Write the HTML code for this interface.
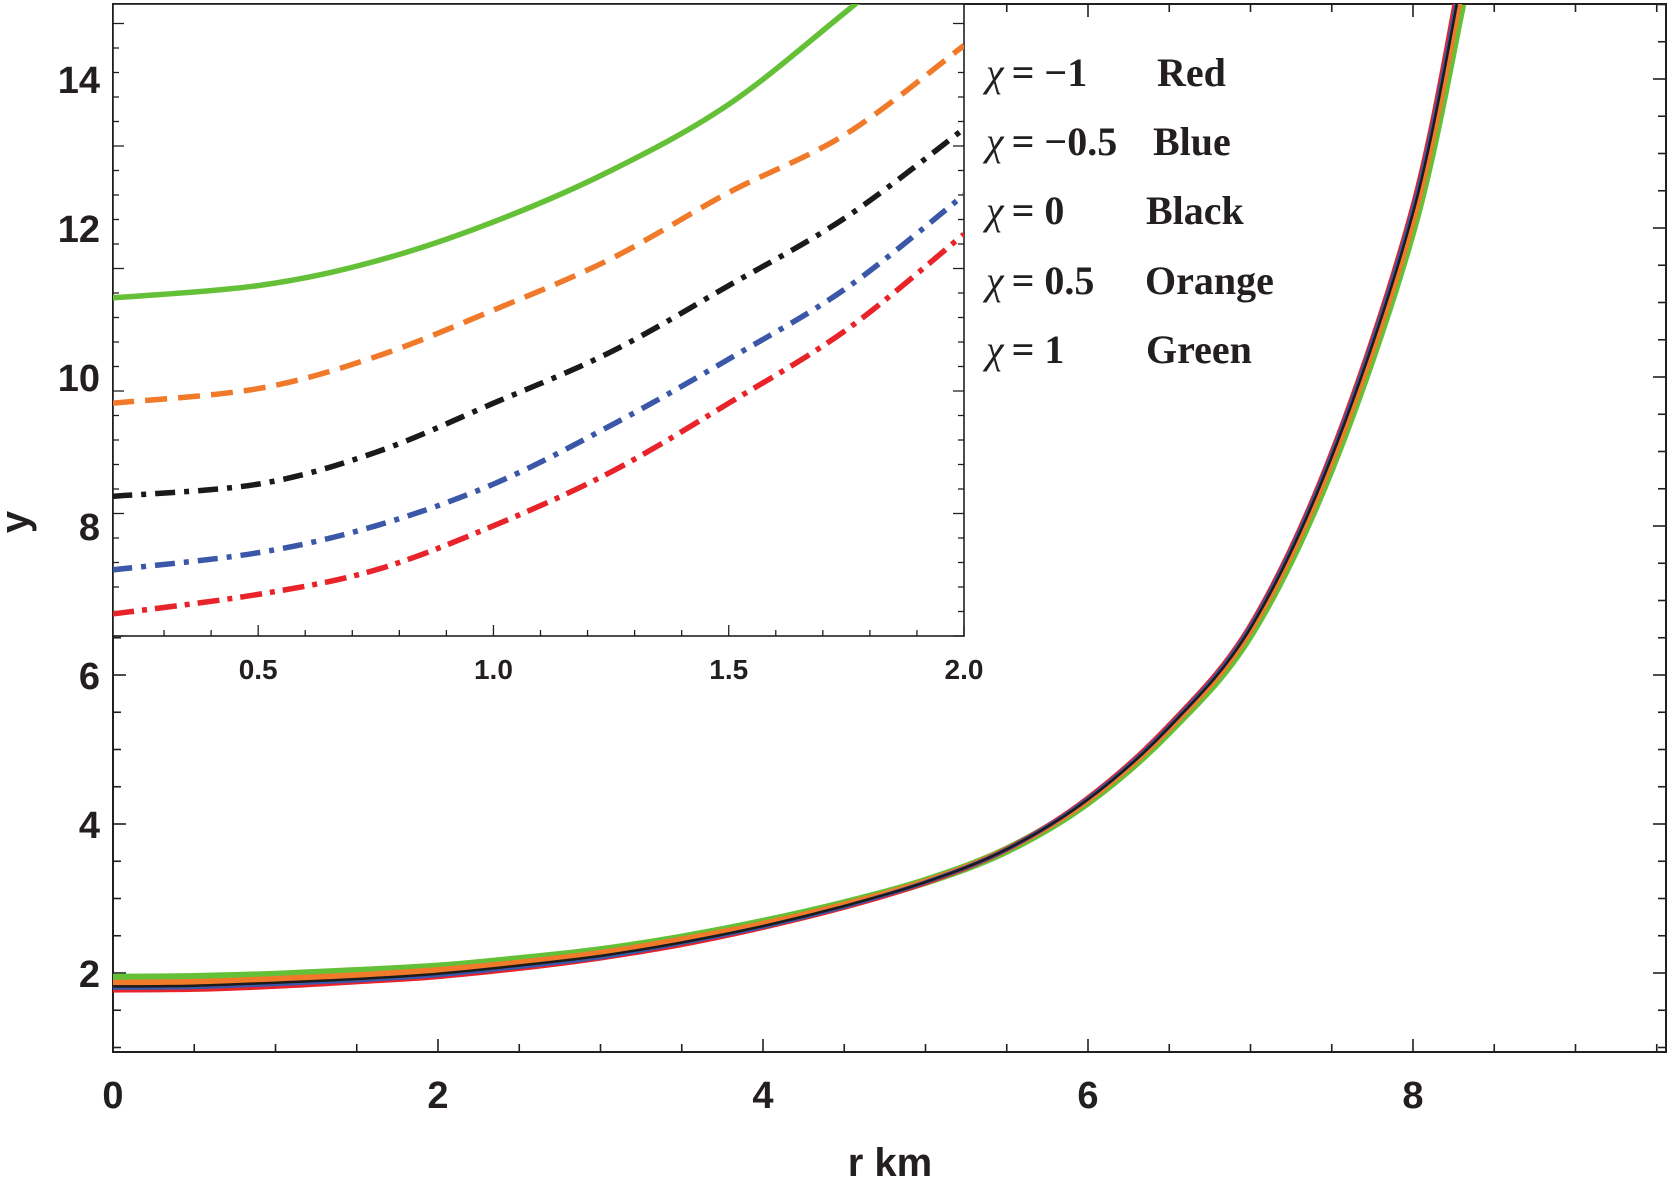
<!DOCTYPE html>
<html><head><meta charset="utf-8"><style>
html,body{margin:0;padding:0;background:#fff;}
svg{display:block;}
.tl{font-family:"Liberation Sans",sans-serif;font-weight:bold;fill:#231f20;}
.lg{font-family:"Liberation Serif",serif;font-weight:bold;fill:#231f20;font-size:40px;}
</style></head><body>
<svg id="chart" width="1667" height="1178" viewBox="0 0 1667 1178"></svg>
<script>
// ---- main plot data ----
const mainX = [0,0.5,1,1.5,2,2.5,3,3.5,4,4.5,5,5.5,6,6.5,7,7.5,8,8.3];
const mainGreen  = [1.93,1.94,1.97,2.02,2.08,2.18,2.30,2.47,2.68,2.93,3.23,3.65,4.30,5.25,6.55,8.80,12.0,15.0];
const mainOrange = [1.87,1.88,1.92,1.97,2.04,2.14,2.27,2.45,2.66,2.92,3.23,3.66,4.32,5.28,6.60,8.87,12.1,15.2];
const mainBlack  = [1.82,1.83,1.87,1.92,1.99,2.10,2.23,2.41,2.63,2.90,3.22,3.66,4.33,5.30,6.63,8.93,12.2,15.35];
const mainBlue   = [1.80,1.81,1.85,1.90,1.97,2.08,2.21,2.40,2.62,2.89,3.22,3.66,4.34,5.31,6.65,8.96,12.25,15.4];
const mainRed    = [1.77,1.78,1.82,1.88,1.95,2.06,2.20,2.38,2.61,2.88,3.21,3.66,4.35,5.33,6.67,8.99,12.3,15.5];
const mainXTicks = [0,2,4,6,8];
const mainYTicks = [2,4,6,8,10,12,14];
// ---- inset data ----
const insetX = [0.19,0.5,0.75,1.0,1.25,1.5,1.75,2.0];
const insetGreen  = [3.38,3.43,3.53,3.69,3.90,4.17,4.55,4.95];
const insetOrange = [2.95,3.01,3.14,3.33,3.54,3.81,4.05,4.41];
const insetBlack  = [2.57,2.62,2.75,2.95,3.16,3.43,3.71,4.07];
const insetBlue   = [2.27,2.34,2.45,2.62,2.86,3.13,3.42,3.80];
const insetRed    = [2.09,2.17,2.27,2.45,2.67,2.95,3.25,3.64];
const insetXTicks = [0.5,1.0,1.5,2.0];

const NS="http://www.w3.org/2000/svg";
const svg=document.getElementById('chart');
function mk(tag,attrs,parent){const e=document.createElementNS(NS,tag);for(const k in attrs)e.setAttribute(k,attrs[k]);(parent||svg).appendChild(e);return e;}

const M={l:113,r:1666,t:4,b:1052,x0:0,x1:(1666-113)/162.5,y0:14-(1052-79)/74.5,y1:14+75/74.5};
const mx=v=>M.l+(v-M.x0)/(M.x1-M.x0)*(M.r-M.l);
const my=v=>M.b-(v-M.y0)/(M.y1-M.y0)*(M.b-M.t);
const I={l:113,r:964,t:4,b:636,x0:0.5-(258-113)/470,x1:2.0,y0:2.0,y1:2.0+632/245};
const ix=v=>I.l+(v-I.x0)/(I.x1-I.x0)*(I.r-I.l);
const iy=v=>I.b-(v-I.y0)/(I.y1-I.y0)*(I.b-I.t);

function smoothPath(xs,ys,fx,fy){
  const p=xs.map((x,i)=>[fx(x),fy(ys[i])]);
  let d=`M${p[0][0].toFixed(1)},${p[0][1].toFixed(1)}`;
  for(let i=0;i<p.length-1;i++){
    const p0=p[i-1]||p[i],p1=p[i],p2=p[i+1],p3=p[i+2]||p2;
    const c1=[p1[0]+(p2[0]-p0[0])/6,p1[1]+(p2[1]-p0[1])/6];
    const c2=[p2[0]-(p3[0]-p1[0])/6,p2[1]-(p3[1]-p1[1])/6];
    d+=` C${c1[0].toFixed(1)},${c1[1].toFixed(1)} ${c2[0].toFixed(1)},${c2[1].toFixed(1)} ${p2[0].toFixed(1)},${p2[1].toFixed(1)}`;
  }
  return d;
}

const defs=mk('defs',{});
const cpM=mk('clipPath',{id:'cm'},defs);mk('rect',{x:M.l,y:M.t,width:M.r-M.l,height:M.b-M.t},cpM);
const cpI=mk('clipPath',{id:'ci'},defs);mk('rect',{x:I.l,y:I.t,width:I.r-I.l,height:I.b-I.t},cpI);

const frame=mk('rect',{x:M.l,y:M.t,width:M.r-M.l,height:M.b-M.t,fill:'none',stroke:'#231f20','stroke-width':2});



const tk=mk('g',{stroke:'#231f20','stroke-width':1.6});


for(let v=0;v<=M.x1;v+=0.5){const X=mx(v);const L=(Math.abs(v%2)<1e-6)?13:8;
  mk('line',{x1:X,y1:M.b,x2:X,y2:M.b-L},tk);mk('line',{x1:X,y1:M.t,x2:X,y2:M.t+L},tk);}
for(let v=1;v<=15;v+=0.5){const Y=my(v);if(Y<M.t||Y>M.b)continue;const L=(Math.abs(v%2)<1e-6)?13:8;
  mk('line',{x1:M.l,y1:Y,x2:M.l+L,y2:Y},tk);mk('line',{x1:M.r,y1:Y,x2:M.r-L,y2:Y},tk);}
mainXTicks.forEach(v=>{const t=mk('text',{x:mx(v),y:1108,'text-anchor':'middle','font-size':38,class:'tl'});t.textContent=v;
  });
mainYTicks.forEach(v=>{const t=mk('text',{x:100,y:my(v)+14,'text-anchor':'end','font-size':38,class:'tl'});t.textContent=v;
  });

const xt=mk('text',{x:890,y:1176,'text-anchor':'middle','font-size':40,class:'tl'});xt.textContent='r  km';

const yt=mk('text',{x:0,y:0,'text-anchor':'middle','font-size':40,class:'tl',transform:'translate(28,522) rotate(-90)'});yt.textContent='y';


const gm=mk('g',{'clip-path':'url(#cm)',fill:'none','stroke-linecap':'butt'});

[['green',mainGreen,'#64c037',9],['orange',mainOrange,'#f07a2a',6],['red',mainRed,'#e8232a',5],['blue',mainBlue,'#3b57a8',4],['black',mainBlack,'#1a1a1a',2.5]].forEach(s=>{
  const p=mk('path',{d:smoothPath(mainX,s[1],mx,my),stroke:s[2],'stroke-width':s[3]},gm);
  
  
});

const ibg=mk('rect',{x:I.l,y:I.t,width:I.r-I.l,height:I.b-I.t,fill:'#fff',stroke:'#231f20','stroke-width':1.6});

const itk=mk('g',{stroke:'#231f20','stroke-width':1.3});

for(let k=3;k<=20;k++){const v=k/10;const X=ix(v);const L=(k%5===0)?11:6;mk('line',{x1:X,y1:I.b,x2:X,y2:I.b-L},itk);}
for(let k=0;k<=26;k++){const v=2.0+k/10;const Y=iy(v);if(Y<I.t)continue;const L=(k%5===0)?11:6;
  mk('line',{x1:I.r,y1:Y,x2:I.r-L,y2:Y},itk);mk('line',{x1:I.l,y1:Y,x2:I.l+L,y2:Y},itk);}
insetXTicks.forEach(v=>{const t=mk('text',{x:ix(v),y:679,'text-anchor':'middle','font-size':28,class:'tl'});t.textContent=v.toFixed(1);
  });
const gi=mk('g',{'clip-path':'url(#ci)',fill:'none'});

[['green',insetGreen,'#64c037','none'],['orange',insetOrange,'#f07a2a','22 11'],['black',insetBlack,'#1a1a1a','20 9 5 9'],['blue',insetBlue,'#3b57a8','20 9 5 9'],['red',insetRed,'#e8232a','22 8 5 8']].forEach(s=>{
  const p=mk('path',{d:smoothPath(insetX,s[1],ix,iy),stroke:s[2],'stroke-width':5.5,'stroke-dasharray':s[3]},gi);
  
  
});

const lg=mk('g',{});

[['= \u22121','Red',1157],['= \u22120.5','Blue',1153],['= 0','Black',1146],['= 0.5','Orange',1145],['= 1','Green',1146]].forEach((e,i)=>{
  const y=[72,141,210,280,349][i]+14;
  const t=mk('text',{x:986,y:y,class:'lg'},lg);
  const c=mk('tspan',{'font-style':'italic','font-weight':'normal'},t);c.textContent='\u03c7';
  const v=mk('tspan',{dx:8},t);v.textContent=e[0];
  
  const n=mk('text',{x:e[2],y:y,class:'lg'},lg);n.textContent=e[1];
  
});
</script>
</body></html>
